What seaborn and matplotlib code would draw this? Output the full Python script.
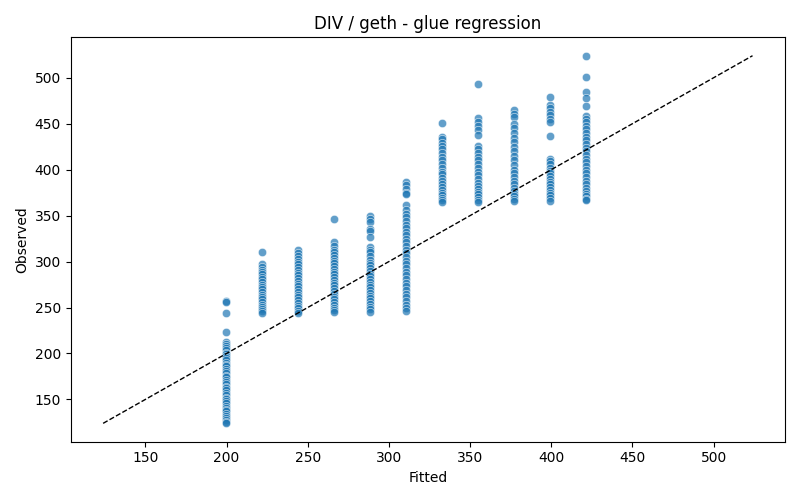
import numpy as np
import pandas as pd
import seaborn as sns
import matplotlib
matplotlib.use("Agg")
import matplotlib.pyplot as plt

# fitted level for each column of points
fitted_levels = [199.4, 221.6, 243.8, 266.0, 288.2, 310.4, 332.6, 354.8, 377.0, 399.2, 421.4]

obs_199 = [257, 256, 244, 223, 212, 210, 208, 206, 204, 201, 199, 197, 195, 193, 190, 188, 186,
           183, 181, 179, 176, 174, 171, 169, 167, 164, 162, 160, 157, 155, 152, 150, 148, 146,
           143, 141, 139, 137, 134, 132, 130, 128, 126, 124]
obs_222 = [310, 297, 294, 291, 289, 286, 283, 281, 278, 275, 272, 270, 267, 264, 261, 259, 256,
           253, 251, 248, 246, 244]
obs_244 = [313, 309, 306, 303, 300, 297, 294, 291, 288, 285, 282, 279, 276, 273, 270, 267, 264,
           261, 258, 255, 252, 249, 246, 244]
obs_266 = [346, 321, 317, 313, 310, 307, 304, 301, 298, 295, 292, 289, 286, 283, 280, 277, 274,
           271, 268, 265, 262, 259, 256, 253, 250, 247, 245]
obs_288 = [350, 346, 343, 335, 333, 327, 316, 313, 310, 306, 302, 299, 296, 293, 290, 287, 284,
           281, 278, 275, 272, 269, 266, 263, 260, 257, 254, 251, 248, 245]
obs_310 = [387, 383, 379, 375, 373, 362, 356, 352, 348, 344, 340, 336, 332, 329, 325, 321, 317,
           313, 309, 305, 301, 297, 293, 289, 285, 281, 277, 273, 269, 265, 261, 257, 253, 249, 246]
obs_333 = [451, 436, 433, 429, 426, 422, 418, 414, 410, 406, 402, 398, 395, 391, 388, 384, 381,
           378, 375, 372, 369, 367, 365]
obs_355 = [493, 456, 452, 448, 443, 438, 426, 422, 418, 414, 410, 406, 402, 398, 394, 390, 386,
           382, 379, 376, 373, 370, 367, 365]
obs_377 = [465, 461, 457, 450, 445, 440, 435, 430, 425, 420, 415, 410, 405, 400, 396, 392, 388,
           384, 380, 377, 374, 371, 368, 366]
obs_399 = [479, 470, 467, 463, 460, 455, 452, 437, 412, 409, 406, 402, 399, 396, 393, 390, 387,
           384, 381, 378, 375, 372, 369, 366]
obs_421 = [524, 501, 485, 478, 469, 458, 455, 452, 448, 444, 440, 436, 432, 428, 424, 420, 416,
           412, 408, 404, 400, 396, 392, 388, 384, 380, 377, 374, 371, 368, 367]

observed = [obs_199, obs_222, obs_244, obs_266, obs_288, obs_310,
            obs_333, obs_355, obs_377, obs_399, obs_421]

rows = []
for f, obs in zip(fitted_levels, observed):
    for o in obs:
        rows.append((f, o))
df = pd.DataFrame(rows, columns=["fitted", "observed"])

fig, ax = plt.subplots(figsize=(8, 5), dpi=100)
sns.scatterplot(data=df, x="fitted", y="observed", alpha=0.7, ax=ax)

lo = min(df["fitted"].min(), df["observed"].min())
hi = max(df["fitted"].max(), df["observed"].max())
ax.plot([lo, hi], [lo, hi], "k--", lw=1)

ax.set_title("DIV / geth - glue regression")
ax.set_xlabel("Fitted")
ax.set_ylabel("Observed")

plt.tight_layout()
plt.savefig("out.png", dpi=100)
plt.close()
